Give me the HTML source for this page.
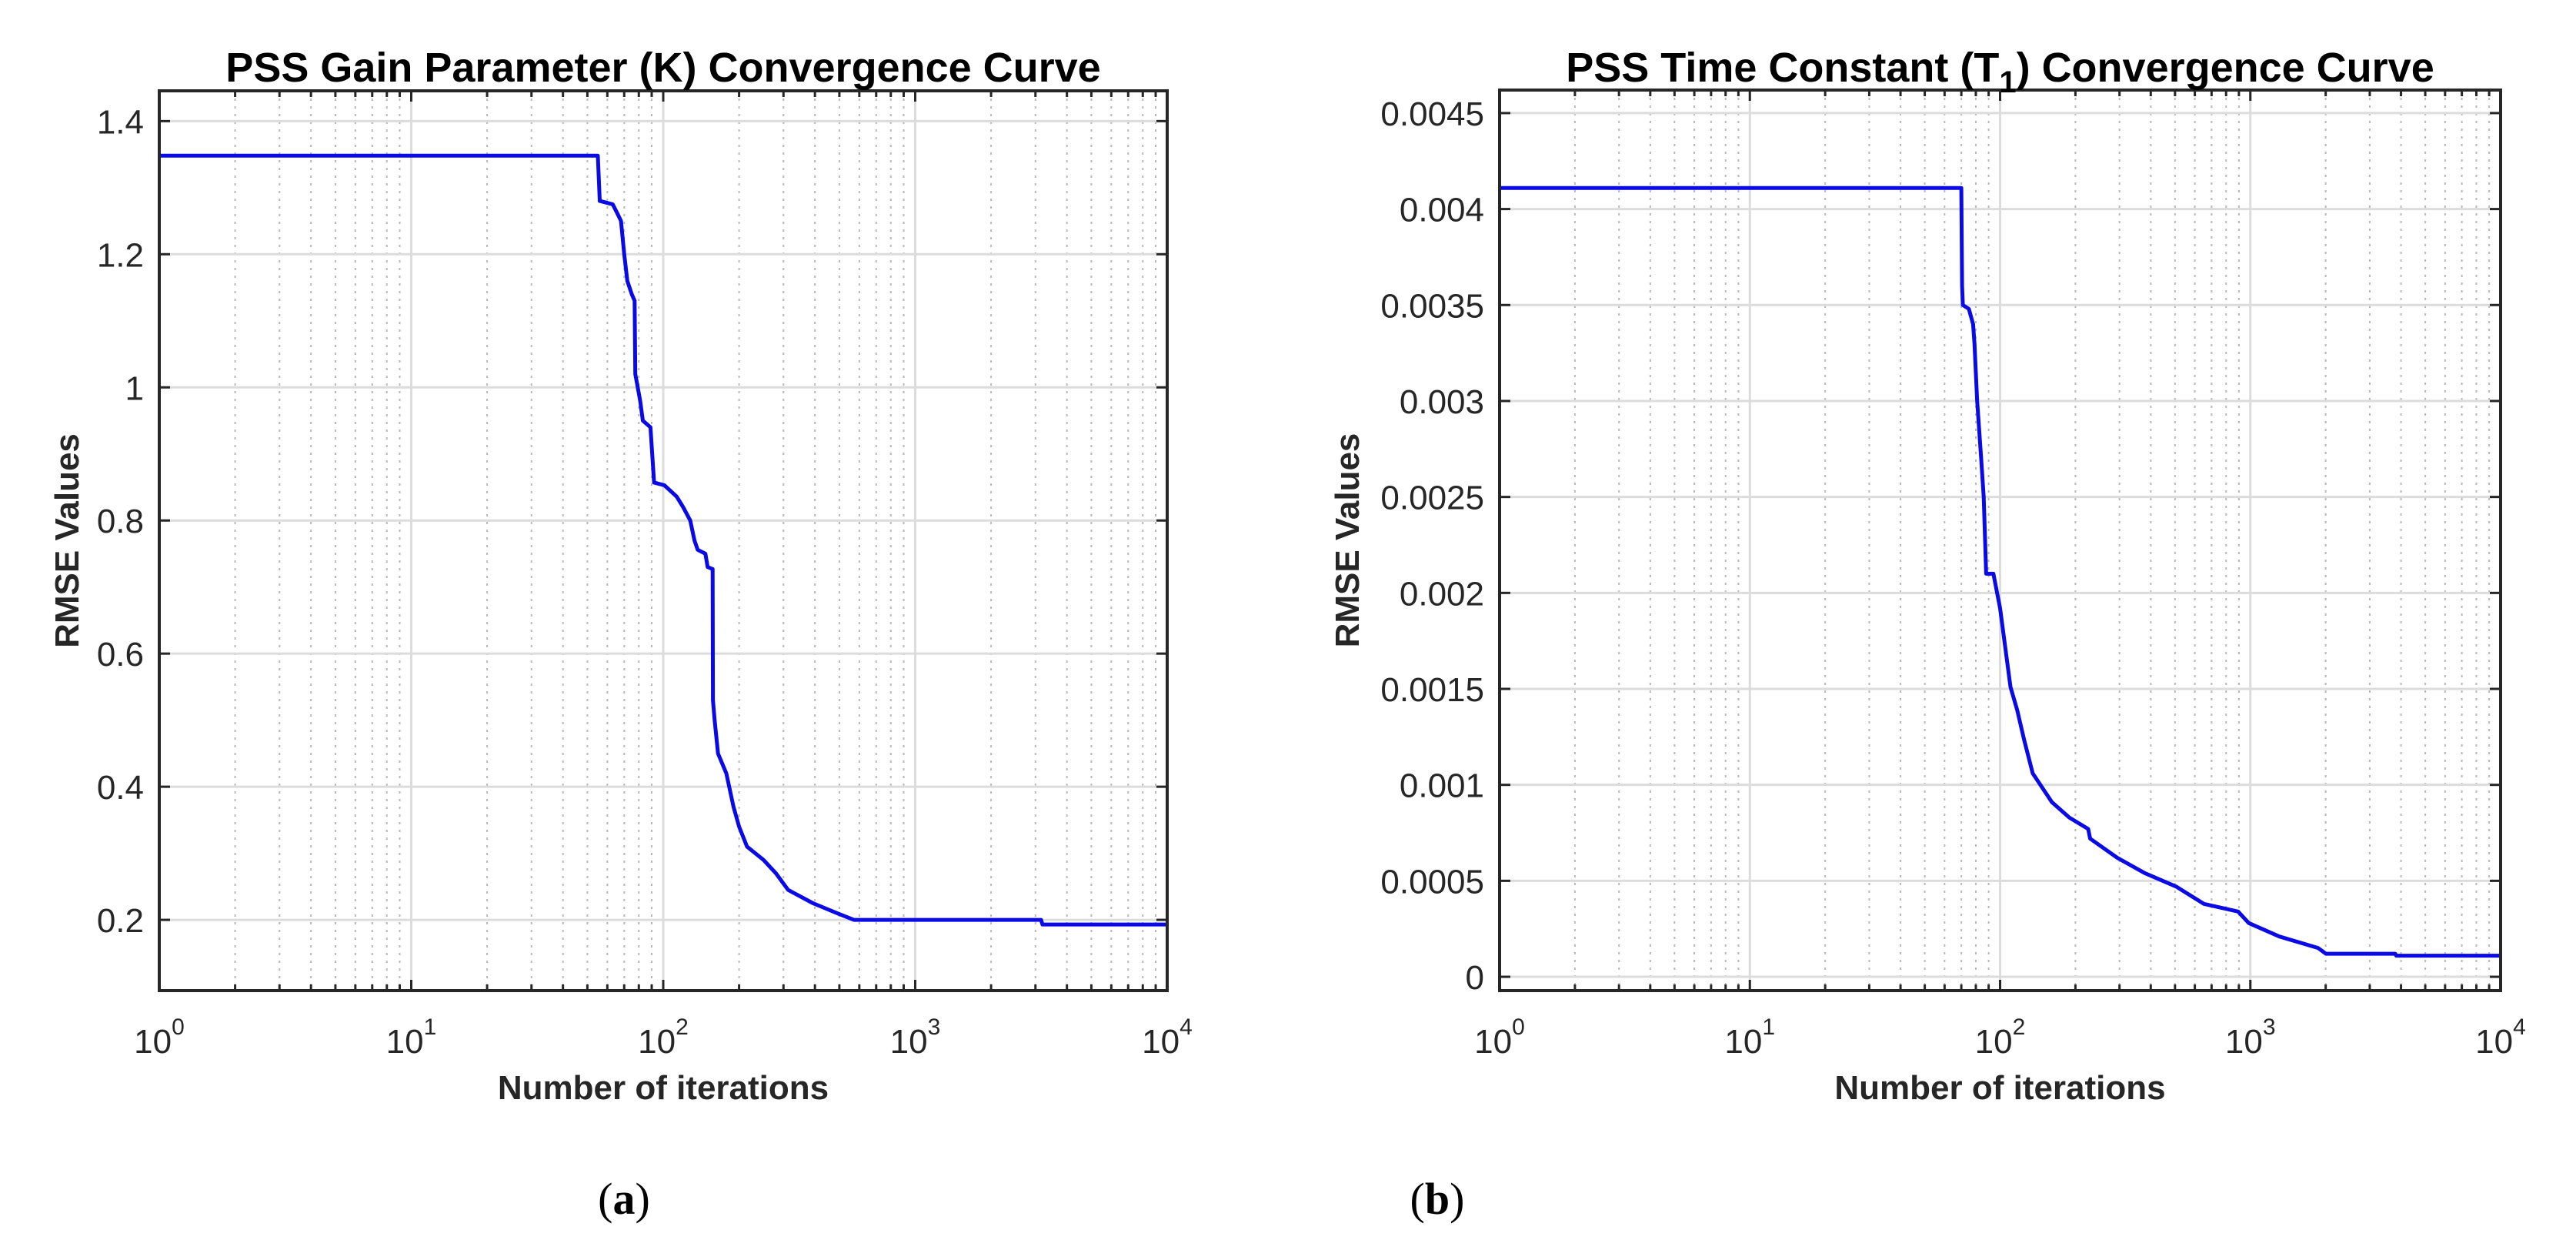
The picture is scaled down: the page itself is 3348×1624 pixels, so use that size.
<!DOCTYPE html>
<html><head><meta charset="utf-8">
<style>
html,body{margin:0;padding:0;background:#fff;}
svg{display:block;}
text{font-family:"Liberation Sans",Arial,sans-serif;}
</style></head>
<body>
<svg id="fig" width="3348" height="1624" viewBox="0 0 3348 1624" xmlns="http://www.w3.org/2000/svg">
<rect width="3348" height="1624" fill="#fff"/>
</svg>
<script>
// ---- Chart (a) data ----
const iterA = [1,55,56,63,66,68,70,72,75,77,77.5,81,83,89,92,101,113,120,128,133,137,147,150,157,157.5,160,165,178,190,200,215,250,280,313,393,490,571,3160,3200,10000];
const rmseA = [1.348,1.348,1.28,1.275,1.26,1.25,1.2,1.16,1.14,1.13,1.02,0.98,0.95,0.94,0.857,0.853,0.836,0.82,0.80,0.77,0.756,0.75,0.73,0.727,0.53,0.50,0.45,0.42,0.37,0.34,0.31,0.29,0.27,0.245,0.225,0.21,0.2,0.2,0.193,0.193];
const yTicksA = [0.2,0.4,0.6,0.8,1,1.2,1.4];
const yTickLabelsA = ["0.2","0.4","0.6","0.8","1","1.2","1.4"];
// ---- Chart (b) data ----
const iterB = [1,70,70.5,71,75,78,79,81,84,86,88,94,100,110,117,125,135,161,189,225,229,294,379,505,652,894,985,1305,1865,2005,3793,3830,10000];
const rmseB = [0.00411,0.00411,0.0036,0.0035,0.00348,0.0034,0.0033,0.003,0.0027,0.0025,0.0021,0.0021,0.00192,0.00151,0.00139,0.00123,0.00106,0.00091,0.00083,0.00077,0.00072,0.00062,0.00054,0.00047,0.00038,0.00034,0.00028,0.00021,0.00015,0.00012,0.00012,0.00011,0.00011];
const yTicksB = [0,0.0005,0.001,0.0015,0.002,0.0025,0.003,0.0035,0.004,0.0045];
const yTickLabelsB = ["0","0.0005","0.001","0.0015","0.002","0.0025","0.003","0.0035","0.004","0.0045"];
const xDecades = [0,1,2,3,4];

const NS="http://www.w3.org/2000/svg";
const svg=document.getElementById('fig');
function el(tag,attrs,parent){const e=document.createElementNS(NS,tag);for(const k in attrs)e.setAttribute(k,attrs[k]);(parent||svg).appendChild(e);return e;}

function drawChart(o){
  const g=el('g',{});
  
  
  const L=o.L,R=o.R,T=o.T,B=o.B;
  const xs=v=>L+(Math.log10(v)-0)/4*(R-L);
  const ys=v=>B-(v-o.ymin)/(o.ymax-o.ymin)*(B-T);
  // minor grid
  for(let d=0;d<4;d++)for(let m=2;m<=9;m++){
    const x=xs(m*Math.pow(10,d));
    const ln=el('line',{x1:x,x2:x,y1:T,y2:B,stroke:'#b8b8b8','stroke-width':2,'stroke-dasharray':'3,7'},g);
    
    
    el('line',{x1:x,x2:x,y1:B,y2:B-8,stroke:'#262626','stroke-width':3},g);
    el('line',{x1:x,x2:x,y1:T,y2:T+8,stroke:'#262626','stroke-width':3},g);
  }
  // major grid x
  xDecades.forEach(d=>{
    const x=xs(Math.pow(10,d));
    const ln=el('line',{x1:x,x2:x,y1:T,y2:B,stroke:'#dcdcdc','stroke-width':3},g);
    
    
    el('line',{x1:x,x2:x,y1:B,y2:B-14,stroke:'#262626','stroke-width':3},g);
    el('line',{x1:x,x2:x,y1:T,y2:T+14,stroke:'#262626','stroke-width':3},g);
    const t=el('text',{x:x,y:1368,'font-size':44,fill:'#262626','text-anchor':'middle'},g);
    
    
    t.textContent='10';
    const s=el('tspan',{'font-size':30,dy:-24},t);
    s.textContent=String(d);
  });
  // major grid y
  o.yt.forEach((v,i)=>{
    const y=ys(v);
    const ln=el('line',{x1:L,x2:R,y1:y,y2:y,stroke:'#dcdcdc','stroke-width':3},g);
    
    
    el('line',{x1:L,x2:L+14,y1:y,y2:y,stroke:'#262626','stroke-width':3},g);
    el('line',{x1:R,x2:R-14,y1:y,y2:y,stroke:'#262626','stroke-width':3},g);
    const t=el('text',{x:L-20,y:y+16,'font-size':44,fill:'#262626','text-anchor':'end'},g);
    
    
    t.textContent=o.ytl[i];
  });
  // curve
  const pts=o.xd.map((v,i)=>xs(v).toFixed(1)+','+ys(o.yd[i]).toFixed(1)).join(' ');
  const pl=el('polyline',{points:pts,fill:'none',stroke:'#0a0ae6','stroke-width':5,'stroke-linejoin':'round'},g);
  
  
  // box
  const bx=el('rect',{x:L,y:T,width:R-L,height:B-T,fill:'none',stroke:'#262626','stroke-width':4},g);
  
  
  // title
  const tt=el('text',{x:(L+R)/2,y:106,'font-size':54,'font-weight':'bold',fill:'#000','text-anchor':'middle'},g);
  
  
  if(o.sub){
    tt.appendChild(document.createTextNode(o.title[0]));
    const s=el('tspan',{'font-size':40,dy:14},tt); s.textContent=o.sub;
    const s2=el('tspan',{dy:-14},tt); s2.textContent=o.title[1];
  } else tt.textContent=o.title;
  // x label
  const xl=el('text',{x:(L+R)/2,y:1428,'font-size':44,'font-weight':'bold',fill:'#262626','text-anchor':'middle'},g);
  
  
  xl.textContent='Number of iterations';
  // y label
  const yl=el('text',{x:0,y:0,'font-size':44,'font-weight':'bold',fill:'#262626','text-anchor':'middle',transform:`translate(${o.ylx},${(T+B)/2}) rotate(-90)`},g);
  
  
  yl.textContent='RMSE Values';
  // caption
  const cp=el('text',{x:o.capx,y:1577,'font-size':58,fill:'#000','text-anchor':'middle',style:'font-family:"Liberation Serif",serif'},g);
  
  
  cp.appendChild(document.createTextNode('('));
  const b=el('tspan',{'font-weight':'bold'},cp); b.textContent=o.cap;
  cp.appendChild(document.createTextNode(')'));
}
drawChart({name:'chart-a',L:207,R:1517,T:118,B:1287,ymin:0.0937,ymax:1.4455,xd:iterA,yd:rmseA,yt:yTicksA,ytl:yTickLabelsA,title:'PSS Gain Parameter (K) Convergence Curve',ylx:102,capx:811,cap:'a'});
drawChart({name:'chart-b',L:1949,R:3250,T:117,B:1287,ymin:-0.000072,ymax:0.00462,xd:iterB,yd:rmseB,yt:yTicksB,ytl:yTickLabelsB,title:['PSS Time Constant (T',') Convergence Curve'],sub:'1',ylx:1766,capx:1868,cap:'b'});
</script>
</body></html>
